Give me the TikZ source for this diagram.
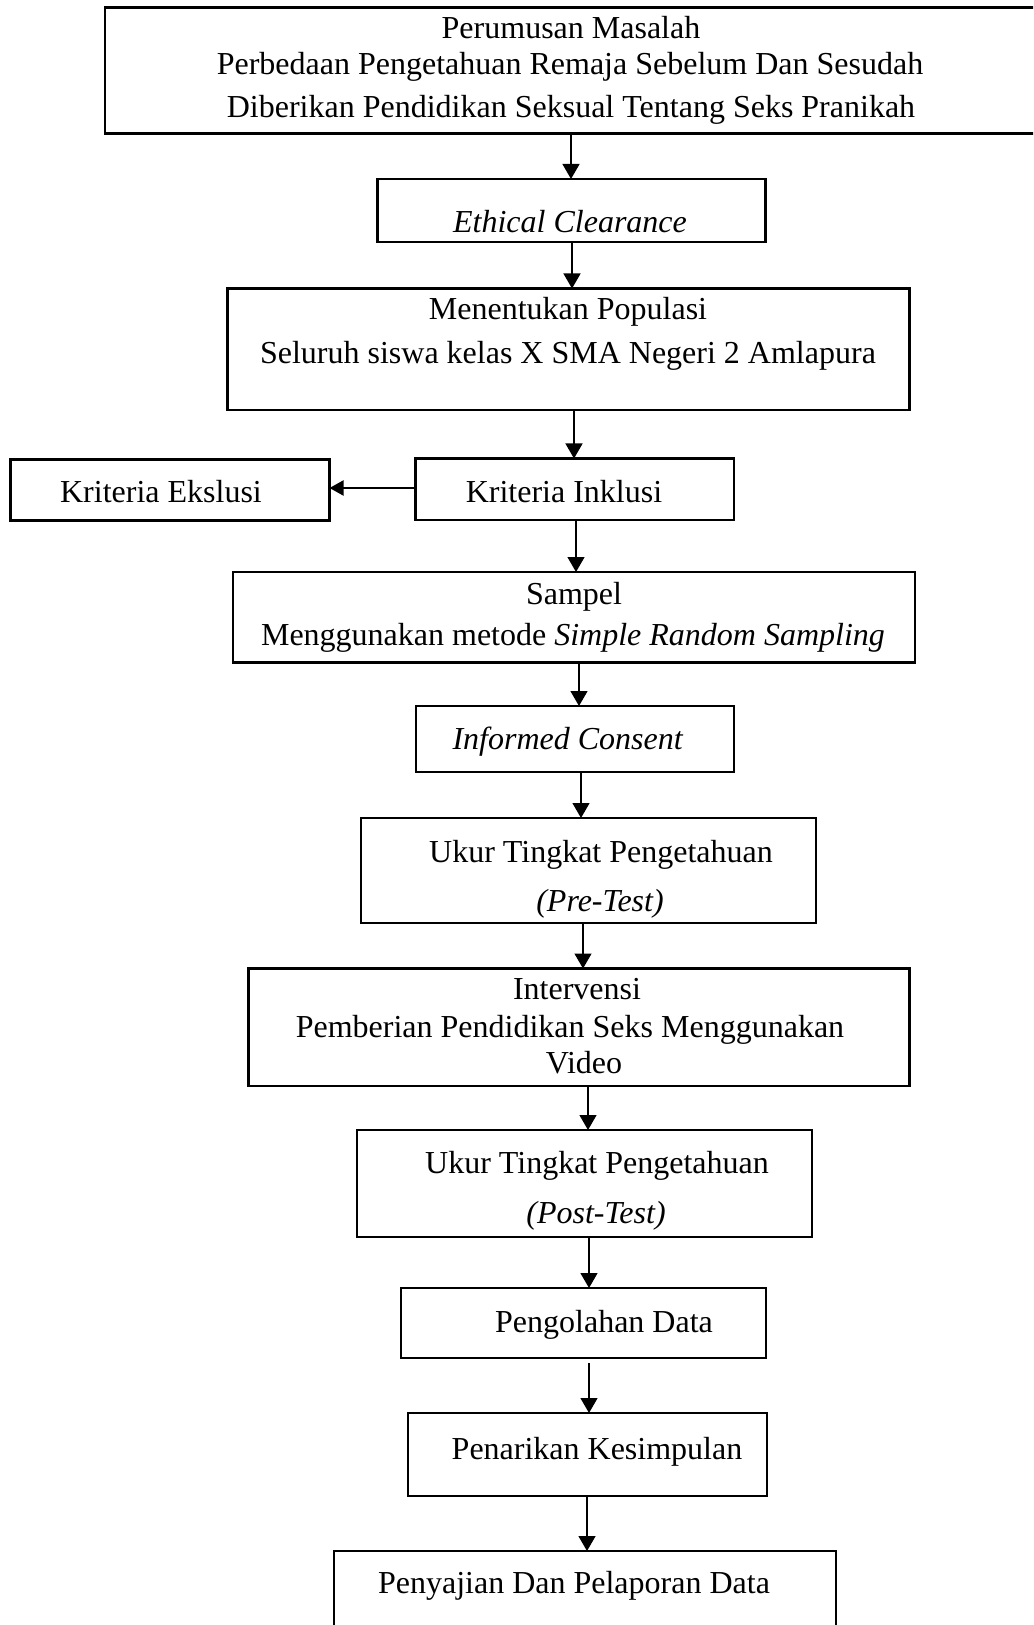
\documentclass[tikz,border=0pt]{standalone}
\usepackage{fontspec}
\setmainfont{Liberation Serif}
\usetikzlibrary{arrows.meta,fit}
\begin{document}
\begin{tikzpicture}[x=0.5pt,y=-0.5pt,
  box/.style={draw, line width=1.1pt, inner sep=0pt, outer sep=0pt},
  lbl/.style={anchor=base, inner sep=0pt, font=\fontsize{16}{19}\selectfont},
  arr/.style={line width=0.65pt, -{Triangle[length=7.5pt,width=8.5pt]}},
  arrthick/.style={line width=1pt, -{Triangle[length=7pt,width=7.5pt]}}]
\path[use as bounding box, fill=white] (0,0) rectangle (1033,1625);
\clip (0,0) rectangle (1033,1625);
% boxes
\node[box, fit={(105,7.5)(1060,133.5)}] (top) {};
\node[box, fit={(377.5,179)(765.5,242)}] (ethical) {};
\node[box, fit={(227.5,288.5)(909.5,410)}] (populasi) {};
\node[box, fit={(415.5,458.5)(734,520)}] (inklusi) {};
\node[box, fit={(10.5,459.5)(329.5,520.5)}] (ekslusi) {};
\node[box, fit={(233,572)(915,662.5)}] (sampel) {};
\node[box, fit={(416,706)(734,772)}] (informed) {};
\node[box, fit={(361,818)(816,923)}] (pre) {};
\node[box, fit={(248.5,968.5)(909.5,1086)}] (intervensi) {};
\node[box, fit={(357,1130)(812,1237)}] (post) {};
\node[box, fit={(401,1288)(766,1358)}] (olah) {};
\node[box, fit={(408,1413)(767,1496)}] (tarik) {};
\node[box, fit={(334,1551)(836,1700)}] (saji) {};
% texts
\node[lbl] (t1) at (571,39) {Perumusan Masalah};
\node[lbl] (t2) at (570,75) {Perbedaan Pengetahuan Remaja Sebelum Dan Sesudah};
\node[lbl] (t3) at (571,118) {Diberikan Pendidikan Seksual Tentang Seks Pranikah};
\node[lbl] (t4) at (570,233) {\textit{Ethical Clearance}};
\node[lbl] (t5) at (568,320) {Menentukan Populasi};
\node[lbl] (t6) at (568,364) {Seluruh siswa kelas X SMA Negeri 2 Amlapura};
\node[lbl] (t7) at (564,503) {Kriteria Inklusi};
\node[lbl] (t8) at (161,503) {Kriteria Ekslusi};
\node[lbl] (t9) at (574,604) {Sampel};
\node[lbl] (t10) at (573,645) {Menggunakan metode \textit{Simple Random Sampling}};
\node[lbl] (t11) at (568,749) {\textit{Informed Consent}};
\node[lbl] (t12) at (601,862) {Ukur Tingkat Pengetahuan};
\node[lbl] (t13) at (600,911) {\textit{(Pre-Test)}};
\node[lbl] (t14) at (577,999) {Intervensi};
\node[lbl] (t15) at (570,1037) {Pemberian Pendidikan Seks Menggunakan};
\node[lbl] (t16) at (584,1073) {Video};
\node[lbl] (t17) at (597,1173) {Ukur Tingkat Pengetahuan};
\node[lbl] (t18) at (596,1223) {\textit{(Post-Test)}};
\node[lbl] (t19) at (604,1332) {Pengolahan Data};
\node[lbl] (t20) at (597,1459) {Penarikan Kesimpulan};
\node[lbl] (t21) at (574,1593) {Penyajian Dan Pelaporan Data};
% arrow columns
\coordinate (c1) at (571,0);
\coordinate (c2) at (572,0);
\coordinate (c3) at (574,0);
\coordinate (c4) at (576,0);
\coordinate (c5) at (579,0);
\coordinate (c6) at (581,0);
\coordinate (c7) at (583,0);
\coordinate (c8) at (588,0);
\coordinate (c9) at (589,0);
\coordinate (c10) at (589,0);
\coordinate (c11) at (587,0);
\coordinate (r1) at (0,488);
% connectors
\draw[arr] (top.south -| c1) -- (ethical.north -| c1);
\draw[arr] (ethical.south -| c2) -- (populasi.north -| c2);
\draw[arr] (populasi.south -| c3) -- (inklusi.north -| c3);
\draw[arrthick] (inklusi.west |- r1) -- (ekslusi.east |- r1);
\draw[arr] (inklusi.south -| c4) -- (sampel.north -| c4);
\draw[arr] (sampel.south -| c5) -- (informed.north -| c5);
\draw[arr] (informed.south -| c6) -- (pre.north -| c6);
\draw[arr] (pre.south -| c7) -- (intervensi.north -| c7);
\draw[arr] (intervensi.south -| c8) -- (post.north -| c8);
\draw[arr] (post.south -| c9) -- (olah.north -| c9);
\draw[arr, shorten <=2.5pt] (olah.south -| c10) -- (tarik.north -| c10);
\draw[arr] (tarik.south -| c11) -- (saji.north -| c11);
\end{tikzpicture}
\end{document}
